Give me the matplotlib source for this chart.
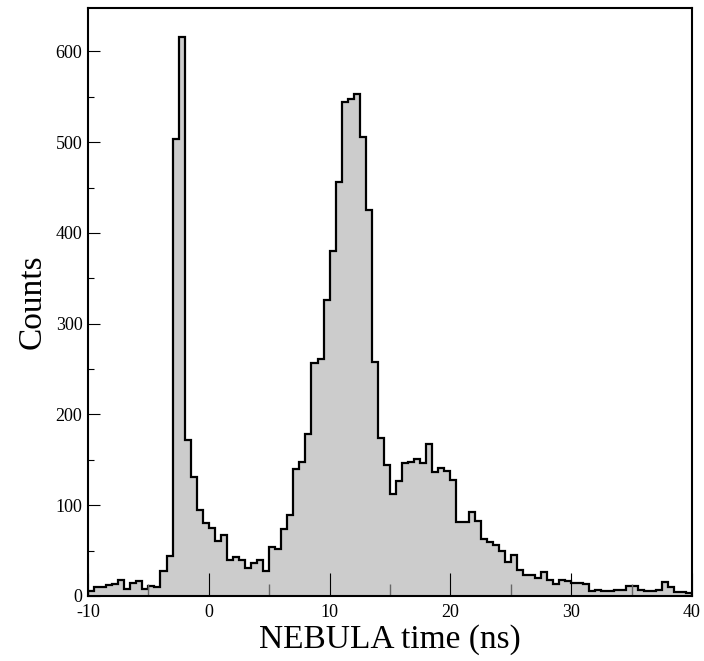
# NEBULA time spectrum, step histogram
import numpy as np
import matplotlib
matplotlib.use("Agg")
import matplotlib.pyplot as plt
from matplotlib.ticker import MultipleLocator

plt.rc('font', family='serif', serif=['Liberation Serif', 'DejaVu Serif'], size=13)
plt.rc('axes', unicode_minus=False)

# bin edges: -10 .. 40 ns, 0.5 ns wide
edges = np.arange(-10.0, 40.0 + 0.25, 0.5)

# counts per bin
counts_neg = [5, 10, 10, 12, 13, 17, 8, 14, 16, 8, 11, 10, 27, 44,
              503, 616, 172, 131, 95, 80]
counts_0_10 = [75, 61, 67, 40, 43, 40, 31, 36, 40, 27,
               54, 52, 74, 89, 140, 148, 178, 257, 261, 326]
counts_10_20 = [380, 456, 544, 548, 553, 506, 425, 258, 174, 144,
                112, 127, 146, 148, 151, 146, 167, 136, 141, 138]
counts_20_30 = [128, 81, 81, 93, 82, 63, 59, 56, 49, 37,
                45, 29, 23, 23, 20, 26, 18, 13, 17, 16]
counts_30_40 = [14, 14, 13, 5.5, 6, 5, 5.5, 7, 7, 11,
                11, 6, 5, 5.5, 7, 15, 10, 4, 4, 3]
counts = np.array(counts_neg + counts_0_10 + counts_10_20 + counts_20_30 + counts_30_40)

x_major = [-10, 0, 10, 20, 30, 40]

fig = plt.figure(figsize=(7.04, 6.61), dpi=100)
ax = fig.add_axes([0.125, 0.0985, 0.858, 0.8895])

ax.stairs(counts, edges, fill=True, color='#cccccc', linewidth=0)
ax.stairs(counts, edges, color='black', linewidth=1.6)

ax.set_xlim(-10, 40)
ax.set_ylim(0, 648)
ax.set_xticks(x_major)
ax.xaxis.set_minor_locator(MultipleLocator(5))
ax.yaxis.set_major_locator(MultipleLocator(100))
ax.yaxis.set_minor_locator(MultipleLocator(50))

ax.tick_params(axis='x', which='major', direction='in', length=16.5, width=0.8,
               color='black', pad=6, labelsize=13)
ax.tick_params(axis='x', which='minor', direction='in', length=8.5, width=1.0,
               color='#666666')
ax.tick_params(axis='y', which='major', direction='in', length=8.5, width=0.8,
               pad=4, labelsize=13)
ax.tick_params(axis='y', which='minor', direction='in', length=4.3, width=0.8)

for s in ax.spines.values():
    s.set_linewidth(1.5)

ax.set_xlabel('NEBULA time (ns)', fontsize=24, labelpad=2)
ax.set_ylabel('Counts', fontsize=24, labelpad=6)

fig.savefig('out.png', dpi=100)
